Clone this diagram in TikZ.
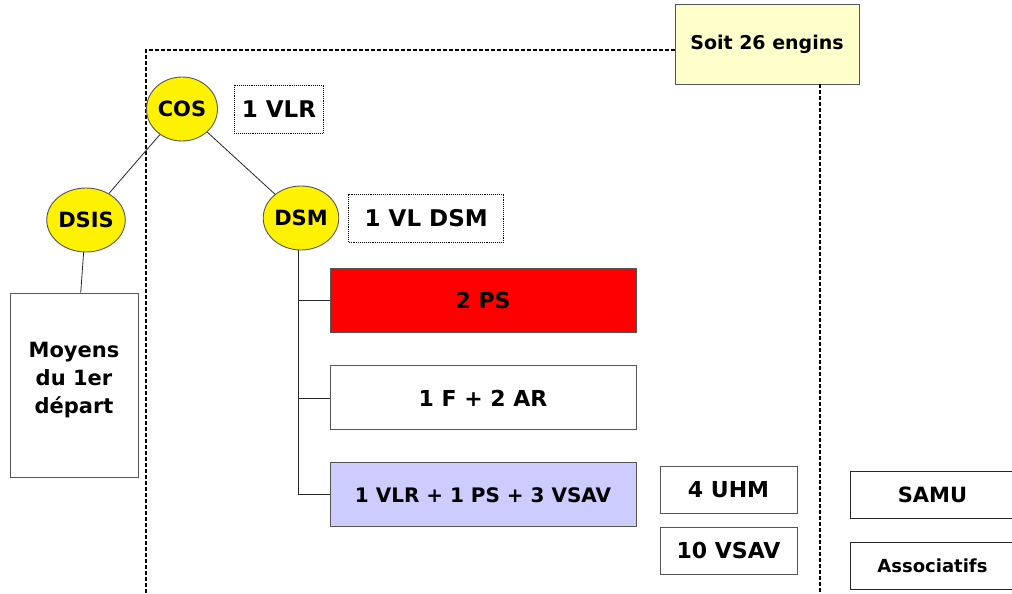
\documentclass[tikz,border=0pt]{standalone}
\usepackage{fontspec}
\setmainfont{DejaVu Sans}
\usetikzlibrary{positioning, shapes.geometric}
\definecolor{boxred}{RGB}{255,0,0}
\definecolor{boxlav}{RGB}{204,204,255}
\definecolor{boxcream}{RGB}{255,255,204}
\definecolor{edgegray}{RGB}{85,85,85}

\begin{document}
\begin{tikzpicture}[
  x=1pt, y=-1pt,
  chef/.style={ellipse, draw=edgegray, line width=0.9pt, fill=yellow, minimum width=72pt, minimum height=64pt, inner sep=0pt, font=\fontsize{21}{24}\selectfont\bfseries},
  engin/.style={draw=edgegray, line width=0.9pt, fill=white, minimum width=306pt, minimum height=64pt, font=\fontsize{22}{26}\selectfont\bfseries},
  renfort/.style={draw=edgegray, line width=0.9pt, fill=white, minimum width=137pt, minimum height=47pt, font=\fontsize{22}{26}\selectfont\bfseries},
  vlbox/.style={draw, densely dotted, line width=0.9pt, minimum height=48pt, font=\fontsize{23}{26}\selectfont\bfseries},
  extbox/.style={draw=black!85, line width=0.9pt, minimum width=164pt, minimum height=47pt, font=\fontsize{21}{24}\selectfont\bfseries},
  link/.style={draw=black!85, line width=0.8pt},
  cadre/.style={dash pattern=on 3.5pt off 2.5pt, line width=1.1pt}
]
\useasboundingbox (0,0) rectangle (1012,594);

% Total
\node[draw=edgegray, line width=0.9pt, fill=boxcream, minimum width=184pt, minimum height=80pt, font=\fontsize{19}{22}\selectfont\bfseries] (soit) at (767,44) {Soit 26 engins};

% Frame
\coordinate (cadretl) at (146,50);
\coordinate (cadrebl) at (146,594);
\coordinate (cadrebr) at (820,594);
\draw[cadre] (soit.west |- cadretl) -- (cadretl) -- (cadrebl);
\draw[cadre] (cadrebr |- soit.south) -- (cadrebr);

% Command
\node[chef, minimum width=71pt] (cos) at (182,109) {COS};
\node[vlbox, minimum width=89pt, right=16pt of cos] (vlr) {1 VLR};
\node[chef] (dsis) at (86,220) {DSIS};
\node[chef] (dsm) at (301,218) {DSM};
\node[vlbox, minimum width=155pt, right=9pt of dsm] (vldsm) {1 VL DSM};

% DSIS branch
\node[draw=edgegray, line width=0.9pt, fill=white, minimum width=128pt, minimum height=184pt, align=center, font=\fontsize{21}{28}\selectfont\bfseries] (moyens) at (74,385) {Moyens\\du 1er\\départ\\[-14pt]};

% DSM branch
\node[engin, fill=boxred] (ps) at (483,300) {2 PS};
\node[engin, below=33pt of ps] (far) {1 F + 2 AR};
\node[engin, fill=boxlav, below=32pt of far, font=\fontsize{20}{24}\selectfont\bfseries] (vsav) {1 VLR + 1 PS + 3 VSAV};

% Renforts
\node[renfort] (uhm) at (728.5,490) {4 UHM};
\node[renfort, below=13pt of uhm] (vsav10) {10 VSAV};

% Partners
\node[extbox, anchor=west] (samu) at (850,495) {SAMU};
\node[extbox, anchor=west, font=\fontsize{18}{22}\selectfont\bfseries] (asso) at (850,566) {Associatifs};

\draw[link] (cos) -- (dsis);
\draw[link] (cos) -- (dsm);
\draw[link] (dsis) -- (moyens);
\draw[link] ([xshift=-3pt]dsm.south) |- (ps.west);
\draw[link] ([xshift=-3pt]dsm.south) |- (far.west);
\draw[link] ([xshift=-3pt]dsm.south) |- (vsav.west);

\end{tikzpicture}
\end{document}
